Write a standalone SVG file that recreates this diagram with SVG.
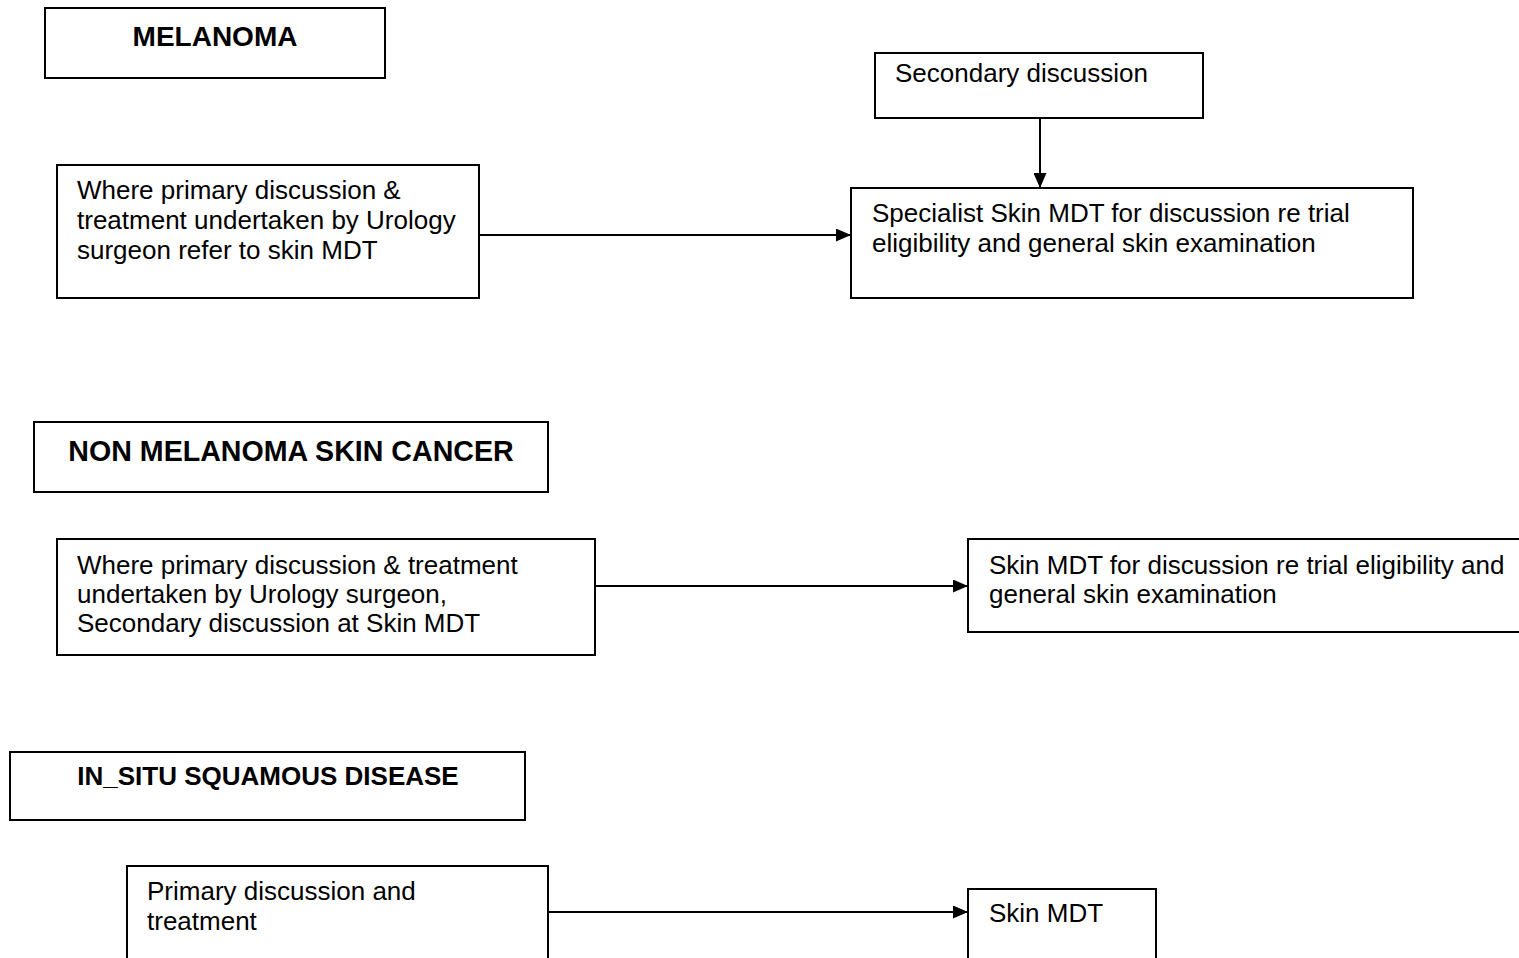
<svg xmlns="http://www.w3.org/2000/svg" width="1519" height="958" viewBox="0 0 1519 958">
  <style>
    .box { fill: #ffffff; stroke: #000000; stroke-width: 2; }
    .head { font-family: "Liberation Sans", Arial, sans-serif; font-weight: bold; fill: #000000; text-anchor: middle; }
    .txt { font-family: "Liberation Sans", Arial, sans-serif; font-size: 26px; fill: #000000; }
    .link { fill: none; stroke: #000000; stroke-width: 2; marker-end: url(#arrow); }
  </style>
  <defs>
    <marker id="arrow" viewBox="0 0 15 13" refX="15" refY="6.5" markerWidth="15" markerHeight="13" markerUnits="userSpaceOnUse" orient="auto">
      <path d="M0,0 L15,6.5 L0,13 Z" fill="#000000"/>
    </marker>
  </defs>
  <rect width="1519" height="958" fill="#ffffff"/>

  <!-- Section 1: melanoma -->
  <g id="melanoma-title">
    <rect class="box" x="45" y="8" width="340" height="70"/>
    <text class="head" x="215" y="46" font-size="28">MELANOMA</text>
  </g>
  <g id="secondary-discussion">
    <rect class="box" x="875" y="53" width="328" height="65"/>
    <text class="txt" x="895" y="82">Secondary discussion</text>
  </g>
  <g id="melanoma-primary">
    <rect class="box" x="57" y="165" width="422" height="133"/>
    <text class="txt" x="77" y="199">Where primary discussion &amp;</text>
    <text class="txt" x="77" y="229">treatment undertaken by Urology</text>
    <text class="txt" x="77" y="259">surgeon refer to skin MDT</text>
  </g>
  <g id="specialist-skin-mdt">
    <rect class="box" x="851" y="188" width="562" height="110"/>
    <text class="txt" x="872" y="222">Specialist Skin MDT for discussion re trial</text>
    <text class="txt" x="872" y="252">eligibility and general skin examination</text>
  </g>

  <!-- Section 2: non melanoma skin cancer -->
  <g id="nmsc-title">
    <rect class="box" x="34" y="422" width="514" height="70"/>
    <text class="head" x="291" y="461" font-size="28.6">NON MELANOMA SKIN CANCER</text>
  </g>
  <g id="nmsc-primary">
    <rect class="box" x="57" y="539" width="538" height="116"/>
    <text class="txt" x="77" y="574">Where primary discussion &amp; treatment</text>
    <text class="txt" x="77" y="603">undertaken by Urology surgeon,</text>
    <text class="txt" x="77" y="632">Secondary discussion at Skin MDT</text>
  </g>
  <g id="nmsc-skin-mdt">
    <rect class="box" x="968" y="539" width="560" height="93"/>
    <text class="txt" x="989" y="574">Skin MDT for discussion re trial eligibility and</text>
    <text class="txt" x="989" y="603">general skin examination</text>
  </g>

  <!-- Section 3: in situ squamous disease -->
  <g id="insitu-title">
    <rect class="box" x="10" y="752" width="515" height="68"/>
    <text class="head" x="268" y="785" font-size="26">IN_SITU SQUAMOUS DISEASE</text>
  </g>
  <g id="insitu-primary">
    <rect class="box" x="127" y="866" width="421" height="110"/>
    <text class="txt" x="147" y="900">Primary discussion and</text>
    <text class="txt" x="147" y="930">treatment</text>
  </g>
  <g id="insitu-skin-mdt">
    <rect class="box" x="968" y="889" width="188" height="90"/>
    <text class="txt" x="989" y="922">Skin MDT</text>
  </g>

  <!-- Connectors -->
  <g id="connectors">
    <line class="link" x1="1040" y1="118" x2="1040" y2="188"/>
    <line class="link" x1="479" y1="235" x2="851" y2="235"/>
    <line class="link" x1="595" y1="586" x2="968" y2="586"/>
    <line class="link" x1="548" y1="912" x2="968" y2="912"/>
  </g>
</svg>
